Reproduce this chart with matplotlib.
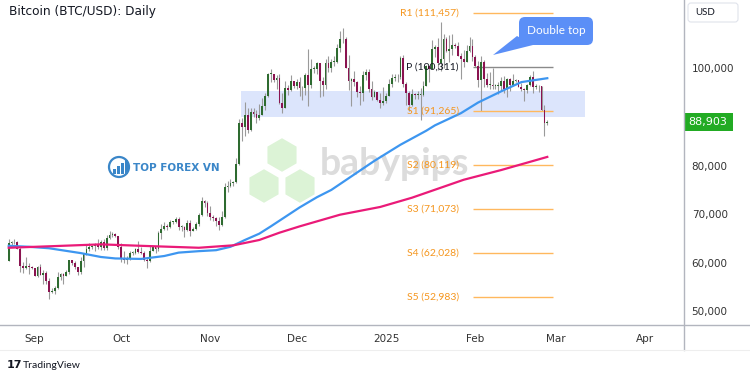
import matplotlib
matplotlib.use('Agg')
import matplotlib.pyplot as plt
import matplotlib.dates as mdates
from matplotlib.patches import FancyBboxPatch, Polygon, RegularPolygon, Rectangle, Circle
import numpy as np
import pandas as pd

plt.rcParams['font.family'] = ['Lato', 'DejaVu Sans']

# BTC/USD daily candles, prices in thousands of USD
dates = pd.date_range('2024-08-23', '2025-02-26', freq='D')
first_open = 60.4
closes = [
    64.1, 64.2, 64.2, 62.9, 59.4, 59.0, 59.4, 59.1, 58.9,
    57.3, 59.1, 57.5, 58.0, 56.2, 53.9, 54.2, 54.9, 57.0, 57.6, 57.3, 58.1, 60.5, 60.0, 59.2,
    58.2, 60.3, 61.8, 62.9, 63.2, 63.4, 63.6, 63.3, 64.3, 63.1, 65.2, 65.8, 65.9, 65.6, 63.3,
    60.8, 60.6, 60.8, 62.1, 62.1, 62.8, 62.2, 62.1, 60.6, 60.3, 62.4, 63.2, 62.9, 66.1, 67.0,
    67.6, 67.4, 68.4, 68.4, 69.0, 67.4, 67.4, 66.7, 68.2, 66.6, 67.0, 68.0, 69.9, 72.7, 72.3, 70.2,
    69.5, 69.3, 68.7, 67.8, 69.4, 75.6, 75.9, 76.5, 76.7, 80.4, 88.7, 87.9, 90.5, 87.3, 91.0,
    90.6, 89.8, 90.5, 92.3, 94.3, 98.9, 98.9, 97.7, 98.0, 93.0, 91.9, 95.9, 95.6, 97.5, 96.4,
    97.3, 95.9, 96.0, 98.6, 96.6, 99.9, 99.9, 101.2, 97.4, 96.6, 101.1, 100.0, 101.4, 101.4, 104.3,
    106.0, 106.1, 100.2, 97.5, 97.8, 97.3, 95.2, 94.9, 98.7, 99.3, 95.8, 94.2, 95.2, 93.6, 92.8, 93.4,
    94.4, 96.9, 98.1, 98.2, 98.3, 102.1, 96.9, 95.0, 92.5, 94.7, 94.5, 94.5, 94.6, 96.5, 100.5,
    99.9, 104.1, 104.4, 101.1, 102.0, 106.1, 103.6, 104.0, 104.8, 104.7, 102.6, 102.0, 101.3, 103.7, 104.7, 102.4,
    100.6, 97.7, 101.4, 97.9, 96.6, 96.6, 96.5, 96.5, 96.5, 97.4, 95.7, 97.9, 96.6, 97.5, 97.6,
    96.1, 95.8, 95.5, 96.6, 98.3, 96.1, 96.5, 96.3, 91.5, 88.7, 88.9,
]
highs = [
    64.9, 64.5, 65.0, 64.5, 63.2, 60.2, 61.2, 59.9, 59.4,
    59.0, 59.4, 59.8, 58.5, 58.3, 56.9, 54.9, 55.3, 58.1, 58.0, 57.9, 58.5, 60.6, 60.6, 60.4,
    59.2, 61.3, 61.8, 63.8, 64.1, 63.6, 64.0, 64.8, 64.6, 64.8, 65.8, 66.5, 66.3, 66.1, 65.6,
    64.1, 62.4, 61.5, 62.5, 62.4, 63.0, 64.5, 63.2, 62.5, 61.3, 63.4, 63.4, 63.3, 66.5, 67.9,
    68.4, 67.9, 68.9, 68.7, 69.4, 69.5, 67.8, 67.5, 68.8, 68.8, 67.4, 68.3, 70.2, 73.6, 72.9, 72.7,
    71.6, 69.9, 69.4, 69.5, 70.6, 76.4, 76.9, 77.2, 76.9, 81.5, 89.6, 89.9, 93.2, 91.8, 91.9,
    91.8, 91.4, 92.6, 94.0, 94.9, 99.0, 99.8, 98.9, 98.6, 98.9, 94.9, 97.4, 96.6, 98.7, 97.5,
    97.9, 98.2, 96.3, 99.0, 104.0, 101.9, 100.5, 101.4, 101.2, 98.3, 101.9, 102.5, 101.9, 102.6, 105.1,
    107.8, 108.3, 106.5, 102.8, 98.0, 99.5, 97.4, 96.4, 99.4, 99.9, 99.9, 97.5, 95.5, 95.2, 94.9, 96.2,
    94.9, 97.8, 98.9, 98.8, 98.8, 102.5, 102.7, 97.3, 95.3, 95.8, 94.9, 95.4, 95.9, 97.4, 100.7,
    100.8, 105.9, 104.9, 106.3, 109.6, 107.2, 106.4, 106.8, 107.1, 105.3, 105.5, 103.2, 103.8, 104.8, 106.4, 106.0,
    102.8, 101.5, 102.5, 101.7, 99.0, 99.2, 100.1, 96.9, 97.3, 98.3, 98.5, 98.1, 98.1, 98.8, 97.9,
    97.7, 97.0, 96.0, 96.9, 98.7, 99.5, 96.9, 96.6, 96.5, 92.5, 89.3,
]
lows = [
    60.3, 63.6, 63.8, 62.8, 58.1, 57.9, 58.8, 57.8, 58.8,
    57.2, 57.1, 57.4, 55.6, 55.7, 52.6, 53.7, 53.6, 54.6, 56.4, 55.6, 57.3, 57.6, 59.5, 58.7,
    57.5, 57.6, 59.2, 61.6, 62.4, 62.8, 62.4, 62.8, 62.7, 62.7, 62.7, 64.8, 65.4, 65.4, 62.9,
    60.2, 60.0, 59.8, 60.5, 61.7, 61.8, 62.1, 61.8, 60.3, 58.9, 60.1, 62.4, 62.0, 62.4, 64.8,
    66.8, 66.7, 67.1, 68.0, 68.1, 66.8, 66.6, 65.3, 66.5, 65.5, 66.5, 66.8, 67.6, 69.7, 71.4, 69.7,
    68.8, 68.7, 67.5, 66.8, 67.5, 69.3, 74.5, 75.6, 75.8, 76.5, 80.2, 85.1, 86.2, 86.7, 87.1,
    90.1, 88.8, 89.4, 90.5, 91.5, 94.1, 97.2, 97.2, 95.8, 92.6, 90.8, 91.8, 94.6, 95.4, 96.0,
    95.7, 94.4, 93.6, 94.6, 92.2, 95.9, 99.0, 98.8, 94.2, 94.3, 95.7, 99.3, 99.2, 100.6, 101.2,
    103.3, 105.3, 100.0, 95.6, 92.2, 96.4, 94.2, 92.4, 93.4, 97.6, 95.1, 93.5, 94.1, 93.3, 91.9, 92.5,
    92.8, 94.4, 96.2, 97.5, 97.3, 97.9, 96.1, 92.5, 91.2, 92.2, 93.8, 93.7, 89.3, 94.3, 96.5,
    97.3, 99.9, 102.3, 99.6, 99.5, 100.1, 103.3, 101.3, 102.8, 104.2, 102.5, 97.8, 100.3, 101.3, 103.3, 101.6,
    100.3, 96.2, 91.2, 96.2, 96.2, 95.7, 95.7, 95.7, 94.7, 95.3, 94.9, 94.1, 95.3, 96.3, 97.3,
    96.1, 95.3, 93.4, 95.0, 96.4, 94.9, 95.8, 95.2, 91.2, 86.1, 88.4,
]

# moving averages (thousands)
ma100_dates = ['2024-08-23', '2024-08-30', '2024-09-06', '2024-09-17', '2024-09-24', '2024-09-29',
               '2024-10-08', '2024-10-16', '2024-10-21', '2024-10-28', '2024-11-03', '2024-11-08',
               '2024-11-13', '2024-11-18', '2024-11-22', '2024-12-02', '2024-12-08', '2024-12-13',
               '2024-12-28', '2025-01-06', '2025-01-15', '2025-01-18', '2025-01-27', '2025-02-02',
               '2025-02-10', '2025-02-17', '2025-02-26']
ma100 = [63.5, 63.3, 63.0, 62.0, 61.2, 60.9, 60.8, 61.4, 62.1, 62.4, 62.6, 63.3, 64.7, 66.0,
         67.5, 71.4, 73.5, 75.0, 81.0, 84.3, 87.2, 88.3, 90.8, 93.0, 95.3, 97.2, 98.0]
ma200_dates = ['2024-08-23', '2024-09-06', '2024-09-24', '2024-10-08', '2024-10-28', '2024-11-09',
               '2024-11-18', '2024-11-25', '2024-12-02', '2024-12-16', '2024-12-30', '2025-01-10',
               '2025-01-28', '2025-02-10', '2025-02-26']
ma200 = [63.1, 63.4, 63.8, 63.5, 63.1, 63.6, 64.7, 66.2, 67.5, 69.9, 71.5, 73.4, 77.1, 79.1, 81.8]

pivot_names = ['R1', 'P', 'S1', 'S2', 'S3', 'S4', 'S5']
pivot_values = [111457, 100311, 91265, 80119, 71073, 62028, 52983]
pivot_start, pivot_end = '2025-01-31 04:00', '2025-02-28'

zone_low, zone_high = 90000, 95400
zone_start, zone_end = '2024-11-11 16:00', '2025-03-11'
last_price = 88903

month_ticks = ['2024-09-01', '2024-10-01', '2024-11-01', '2024-12-01',
               '2025-01-01', '2025-02-01', '2025-03-01', '2025-04-01']
month_labels = ['Sep', 'Oct', 'Nov', 'Dec', '2025', 'Feb', 'Mar', 'Apr']
price_ticks = [50000, 60000, 70000, 80000, 90000, 100000]

assert len(closes) == len(dates) == len(highs) == len(lows)

c = np.array(closes) * 1000
o = np.array([first_open] + closes[:-1]) * 1000
h = np.array(highs) * 1000
l = np.array(lows) * 1000
x = mdates.date2num(dates)

fig = plt.figure(figsize=(7.5, 3.75), dpi=100)

# background layer in pixel coordinates (watermarks, title)
bg = fig.add_axes([0, 0, 1, 1])
bg.set_xlim(0, 750)
bg.set_ylim(375, 0)
bg.axis('off')

for cx, cy in [(282, 155), (264, 186), (300, 186)]:
    bg.add_patch(RegularPolygon((cx, cy), 6, radius=18, fc='#dcf3d6', ec='white', lw=1.5))
bg.text(320, 164, 'babypips', fontsize=27, fontweight='bold', color='#dcdcdc', va='center')

bg.add_patch(Circle((119, 167), 10, fill=False, ec='#3a86c8', lw=1.6))
for bx, bh in [(113, 5), (117, 8), (121, 11), (125, 14)]:
    bg.add_patch(Rectangle((bx, 174 - bh), 2.6, bh, fc='#3a86c8', ec='none'))
bg.text(133, 168, 'TOP FOREX VN', fontsize=7.5, fontweight='bold', color='#3a86c8',
        va='center', family='DejaVu Sans')

bg.text(9, 11, 'Bitcoin (BTC/USD): Daily', fontsize=8.7, color='#131722', va='center',
        family='DejaVu Sans')
bg.text(7, 365, '17', fontsize=8, fontweight='bold', color='#131722', va='center',
        family='DejaVu Sans')
bg.text(23, 365, 'TradingView', fontsize=7.5, color='#131722', va='center')

# main chart
ax = fig.add_axes([0, 50 / 375, 684 / 750, 325 / 375])
ax.patch.set_alpha(0)
jan1 = mdates.date2num(pd.Timestamp('2025-01-01'))
ax.set_xlim(jan1 - 386 / 2.88, jan1 + 298 / 2.88)
ax.set_ylim(47200, 114100)

zs, ze = mdates.date2num(pd.Timestamp(zone_start)), mdates.date2num(pd.Timestamp(zone_end))
ax.add_patch(Rectangle((zs, zone_low), ze - zs, zone_high - zone_low, fc='#dce5fc', ec='none', zorder=1))

up = c >= o
body_bottom = np.minimum(o, c)
body_height = np.maximum(np.abs(c - o), 150)
ax.vlines(x, l, h, color='#9a9a9a', lw=0.8, zorder=2)
ax.bar(x, body_height, bottom=body_bottom, width=0.62,
       color=np.where(up, '#2e6b30', '#8a1350'), linewidth=0, zorder=3)

ax.plot(mdates.date2num(pd.to_datetime(ma100_dates)), np.array(ma100) * 1000,
        color='#3d96f0', lw=1.6, zorder=4)
ax.plot(mdates.date2num(pd.to_datetime(ma200_dates)), np.array(ma200) * 1000,
        color='#ea1a78', lw=1.6, zorder=4)

ps, pe = mdates.date2num(pd.Timestamp(pivot_start)), mdates.date2num(pd.Timestamp(pivot_end))
for name, val in zip(pivot_names, pivot_values):
    col = '#8a8a8a' if name == 'P' else '#ffb85e'
    tcol = '#131722' if name == 'P' else '#f5961e'
    ax.hlines(val, ps, pe, color=col, lw=1, zorder=2)
    ax.annotate(f'{name} ({val:,})', xy=(ps, val), xytext=(-14, 0), textcoords='offset pixels',
                ha='right', va='center', color=tcol, fontsize=7.5, zorder=5)

ax.yaxis.tick_right()
ax.set_yticks(price_ticks)
ax.set_yticklabels([f'{v:,}' for v in price_ticks], family='DejaVu Sans')
ax.tick_params(axis='y', length=0, pad=5.5, labelsize=7.5, labelcolor='#333333')
ax.set_xticks(mdates.date2num(pd.to_datetime(month_ticks)))
ax.set_xticklabels(month_labels, family='DejaVu Sans')
ax.tick_params(axis='x', length=0, pad=6.5, labelsize=7.5, labelcolor='#333333')
for s in ax.spines.values():
    s.set_visible(False)

# foreground layer: frame lines, callout, price label
fg = fig.add_axes([0, 0, 1, 1])
fg.set_xlim(0, 750)
fg.set_ylim(375, 0)
fg.axis('off')
fg.plot([0, 750], [325, 325], color='#b2b5be', lw=1)
fg.plot([684, 684], [0, 350], color='#b2b5be', lw=1)
fg.plot([0, 750], [350, 350], color='#eeeeee', lw=0.8)

fg.add_patch(FancyBboxPatch((519, 17), 74, 28, boxstyle='round,pad=0,rounding_size=6',
                            fc='#5b8ff7', ec='none'))
fg.add_patch(Polygon([(517, 36), (533, 45), (493, 55)], closed=True, fc='#5b8ff7', ec='none'))
fg.text(556, 31, 'Double top', fontsize=8.5, color='white', ha='center', va='center')

fg.add_patch(FancyBboxPatch((688, 3), 50, 19, boxstyle='round,pad=0,rounding_size=3',
                            fc='white', ec='#e0e3eb', lw=0.8))
fg.text(695, 12.5, 'USD', fontsize=7, color='#131722', va='center')

fig.canvas.draw()
py = 375 - ax.transData.transform((x[-1], last_price))[1]
fg.add_patch(Rectangle((684, py - 9), 49, 18, fc='#22ab23', ec='none'))
fg.text(688, py, f'{last_price:,}', fontsize=8, color='white', va='center',
        family='DejaVu Sans')

fig.savefig('out.png', dpi=100)
